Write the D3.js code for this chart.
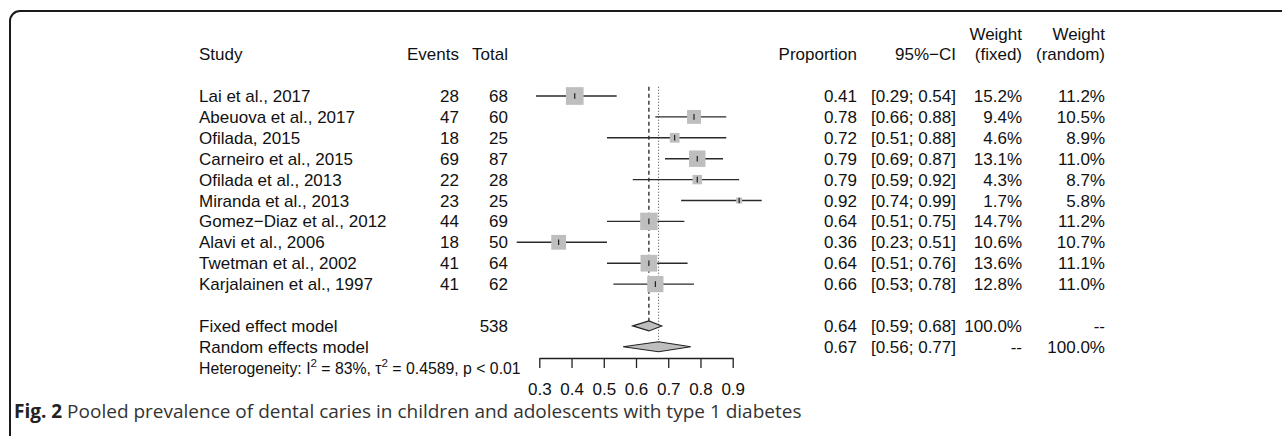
<!DOCTYPE html>
<html>
<head>
<meta charset="utf-8">
<script src="https://cdn.jsdelivr.net/npm/d3@7"></script>
<style>
  body { margin: 0; background: #fff; }
  svg { display: block; }
</style>
</head>
<body>
<svg id="chart" width="1282" height="436"></svg>
<script>
// Data
var studies = ["Lai et al., 2017", "Abeuova et al., 2017", "Ofilada, 2015", "Carneiro et al., 2015",
  "Ofilada et al., 2013", "Miranda et al., 2013", "Gomez\u2212Diaz et al., 2012", "Alavi et al., 2006",
  "Twetman et al., 2002", "Karjalainen et al., 1997"];
var events = [28, 47, 18, 69, 22, 23, 44, 18, 41, 41];
var totals = [68, 60, 25, 87, 28, 25, 69, 50, 64, 62];
var proportions = [0.41, 0.78, 0.72, 0.79, 0.79, 0.92, 0.64, 0.36, 0.64, 0.66];
var ciLower = [0.29, 0.66, 0.51, 0.69, 0.59, 0.74, 0.51, 0.23, 0.51, 0.53];
var ciUpper = [0.54, 0.88, 0.88, 0.87, 0.92, 0.99, 0.75, 0.51, 0.76, 0.78];
var weightFixed = [15.2, 9.4, 4.6, 13.1, 4.3, 1.7, 14.7, 10.6, 13.6, 12.8];
var weightRandom = [11.2, 10.5, 8.9, 11.0, 8.7, 5.8, 11.2, 10.7, 11.1, 11.0];

var modelNames = ["Fixed effect model", "Random effects model"];
var modelTotals = ["538", ""];
var modelEst = [0.64, 0.67];
var modelLower = [0.59, 0.56];
var modelUpper = [0.68, 0.77];
var modelWeightFixed = ["100.0%", "--"];
var modelWeightRandom = ["--", "100.0%"];

var xTicks = [0.3, 0.4, 0.5, 0.6, 0.7, 0.8, 0.9];
var caption = "Pooled prevalence of dental caries in children and adolescents with type 1 diabetes";

var svg = d3.select("#chart");
var font = "'Liberation Sans', Arial, Helvetica, sans-serif";

// scales
var x = d3.scaleLinear().domain([0.3, 0.9]).range([539.3, 732.7]);
var y = d3.scaleLinear().domain([0, 1]).range([96, 116.9]); // row index -> centre
var f2 = d3.format(".2f"), f1 = d3.format(".1f");
function pct(v) { return f1(v) + "%"; }
function ci(lo, hi) { return "[" + f2(lo) + "; " + f2(hi) + "]"; }

// frame of the figure panel
svg.append("path")
  .attr("d", "M10,445 V21 A10,10 0 0 1 20,11 H1290")
  .attr("fill", "none")
  .attr("stroke", "#1a1a1a")
  .attr("stroke-width", 2);

var g = svg.append("g")
  .attr("font-family", font)
  .attr("font-size", 17)
  .attr("fill", "#111");

function txt(xp, yc, s, anchor) {
  return g.append("text")
    .attr("x", xp)
    .attr("y", yc + 6)
    .attr("text-anchor", anchor || "start")
    .text(s);
}

// column positions (right edges unless noted)
var col = { study: 199, events: 459, total: 508, prop: 857, ci: 956, wf: 1022, wr: 1105 };

// headers
txt(col.study, y(-2), "Study");
txt(col.events, y(-2), "Events", "end");
txt(col.total, y(-2), "Total", "end");
txt(col.prop, y(-2), "Proportion", "end");
txt(col.ci, y(-2), "95%\u2212CI", "end");
txt(col.wf, y(-3) + 1, "Weight", "end");
txt(col.wr, y(-3) + 1, "Weight", "end");
txt(col.wf, y(-2), "(fixed)", "end");
txt(col.wr, y(-2), "(random)", "end");

// study rows
studies.forEach(function(s, i) {
  txt(col.study, y(i), s);
  txt(col.events, y(i), events[i], "end");
  txt(col.total, y(i), totals[i], "end");
  txt(col.prop, y(i), f2(proportions[i]), "end");
  txt(col.ci, y(i), ci(ciLower[i], ciUpper[i]), "end");
  txt(col.wf, y(i), pct(weightFixed[i]), "end");
  txt(col.wr, y(i), pct(weightRandom[i]), "end");
});

// model rows
modelNames.forEach(function(s, j) {
  var r = 11 + j;
  txt(col.study, y(r), s);
  txt(col.total, y(r), modelTotals[j], "end");
  txt(col.prop, y(r), f2(modelEst[j]), "end");
  txt(col.ci, y(r), ci(modelLower[j], modelUpper[j]), "end");
  txt(col.wf, y(r), modelWeightFixed[j], "end");
  txt(col.wr, y(r), modelWeightRandom[j], "end");
});

// heterogeneity line (smaller font, superscripts)
var het = g.append("text")
  .attr("x", col.study)
  .attr("y", y(13) + 6)
  .attr("font-size", 15.8);
het.append("tspan").text("Heterogeneity: I");
het.append("tspan").attr("dy", -7).attr("font-size", 11.5).text("2");
het.append("tspan").attr("dy", 7).text(" = 83%, \u03c4");
het.append("tspan").attr("dy", -7).attr("font-size", 11.5).text("2");
het.append("tspan").attr("dy", 7).text(" = 0.4589, p < 0.01");

// reference lines: fixed (dashed) and random (dotted)
var topY = 86.7;
svg.append("line")
  .attr("x1", x(modelEst[0])).attr("x2", x(modelEst[0]))
  .attr("y1", topY).attr("y2", y(11) - 5)
  .attr("stroke", "#222").attr("stroke-width", 1.3)
  .attr("stroke-dasharray", "4,3");
svg.append("line")
  .attr("x1", x(modelEst[1])).attr("x2", x(modelEst[1]))
  .attr("y1", topY).attr("y2", y(12) - 5)
  .attr("stroke", "#555").attr("stroke-width", 1.1)
  .attr("stroke-dasharray", "1,2");

// study CIs and squares
var rows = svg.append("g").selectAll(".study")
  .data(studies)
  .enter()
  .append("g")
  .attr("class", "study");

rows.append("line")
  .attr("x1", function(d, i) { return x(ciLower[i]); })
  .attr("x2", function(d, i) { return x(ciUpper[i]); })
  .attr("y1", function(d, i) { return y(i); })
  .attr("y2", function(d, i) { return y(i); })
  .attr("stroke", "#2a2a2a")
  .attr("stroke-width", 1.4);

rows.append("rect")
  .attr("x", function(d, i) { return x(proportions[i]) - 2.27 * Math.sqrt(weightFixed[i]); })
  .attr("y", function(d, i) { return y(i) - 2.27 * Math.sqrt(weightFixed[i]); })
  .attr("width", function(d, i) { return 4.54 * Math.sqrt(weightFixed[i]); })
  .attr("height", function(d, i) { return 4.54 * Math.sqrt(weightFixed[i]); })
  .attr("fill", "#bebebe");

rows.append("line")
  .attr("x1", function(d, i) { return x(proportions[i]); })
  .attr("x2", function(d, i) { return x(proportions[i]); })
  .attr("y1", function(d, i) { return y(i) - 2.8; })
  .attr("y2", function(d, i) { return y(i) + 2.8; })
  .attr("stroke", "#111")
  .attr("stroke-width", 1.1);

// diamonds for pooled estimates
modelNames.forEach(function(s, j) {
  var cy = y(11 + j);
  svg.append("path")
    .attr("d", "M" + x(modelLower[j]) + "," + cy +
      "L" + x(modelEst[j]) + "," + (cy - 5) +
      "L" + x(modelUpper[j]) + "," + cy +
      "L" + x(modelEst[j]) + "," + (cy + 5) + "Z")
    .attr("fill", "#bebebe")
    .attr("stroke", "#222")
    .attr("stroke-width", 1.1);
});

// x axis
var axis = svg.append("g")
  .attr("transform", "translate(0,358)")
  .call(d3.axisBottom(x).tickValues(xTicks).tickSize(10).tickSizeOuter(0)
    .tickPadding(15).tickFormat(d3.format(".1f")));
axis.select(".domain").attr("stroke", "#222").attr("stroke-width", 1.3);
axis.selectAll(".tick line").attr("stroke", "#222").attr("stroke-width", 1.3);
axis.selectAll(".tick text")
  .attr("font-family", font)
  .attr("font-size", 17)
  .attr("fill", "#111");

// caption
var cap = svg.append("text")
  .attr("x", 14)
  .attr("y", 418)
  .attr("font-family", "'Open Sans', sans-serif")
  .attr("font-size", 19)
  .attr("fill", "#333");
cap.append("tspan").attr("font-weight", "bold").attr("fill", "#222").text("Fig. 2");
cap.append("tspan").text(" " + caption);
</script>
</body>
</html>
